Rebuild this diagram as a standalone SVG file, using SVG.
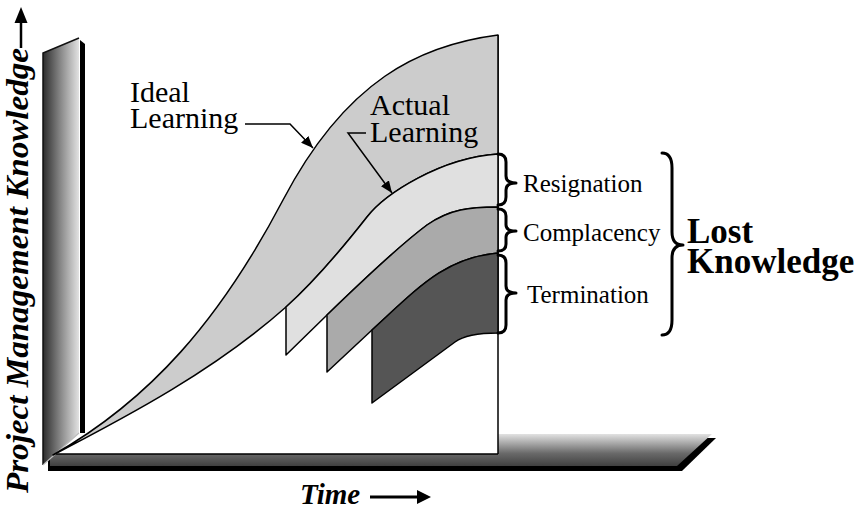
<svg xmlns="http://www.w3.org/2000/svg" width="866" height="511" viewBox="0 0 866 511">
<style>
.band{stroke:#000;stroke-width:1.5;stroke-linejoin:round}
.lbl{fill:#000;font-family:"Liberation Serif","Times New Roman",serif}
.brace{fill:none;stroke:#000;stroke-width:3;stroke-linejoin:round;stroke-linecap:round}
.lead{fill:none;stroke:#000;stroke-width:1.5}
</style>
<defs>
<linearGradient id="gv" x1="0" y1="0" x2="1" y2="0">
<stop offset="0" stop-color="#2c2c2c"/><stop offset="0.5" stop-color="#8a8a8a"/><stop offset="1" stop-color="#e2e2e2"/>
</linearGradient>
<linearGradient id="gh" x1="0" y1="0" x2="0" y2="1">
<stop offset="0" stop-color="#e2e2e2"/><stop offset="0.6" stop-color="#6a6a6a"/><stop offset="1" stop-color="#404040"/>
</linearGradient>
<marker id="ah" viewBox="0 0 12 10" refX="12" refY="5" markerWidth="12" markerHeight="10" markerUnits="userSpaceOnUse" orient="auto">
<path d="M0,0 L12,5 L0,10 Z" fill="#000"/>
</marker>
</defs>
<rect width="866" height="511" fill="#fff"/>

<g id="axes">
<polygon points="48,438 716,438 682,471 48,471" fill="#000"/>
<polygon points="50,434 712,434 677,466 50,466" fill="url(#gh)"/>
<rect x="44" y="420" width="454" height="34" fill="#fff"/>
<line x1="52" y1="454" x2="498" y2="454" stroke="#000" stroke-width="1.5"/>
<line x1="498" y1="35" x2="498" y2="454" stroke="#000" stroke-width="1.5"/>
<polygon points="80,40 85,44 85,433 80,433" fill="#000"/>
<polygon points="43,53 79,38 79,433 43,465" fill="url(#gv)"/>
<polyline points="43,465 43,53 79,38" fill="none" stroke="#111" stroke-width="1.5"/>
<line x1="43" y1="465" x2="79" y2="433" stroke="#bbb" stroke-width="1.2"/>
</g>

<g id="bands">
<path id="ideal" class="band" fill="#cccccc" d="M53,455 C150,400 220,320 283,200 C346,80 420,45 498,35 L498,154 C440,158 385,194 367,217 C345,245 315,281 286,307 C215,370 130,415 53,455 Z"/>
<path id="resignation-band" class="band" fill="#e0e0e0" d="M286,307 C315,281 345,245 367,217 C385,194 440,158 498,154 L498,207 C470,207 450,209 427,225 C400,245 360,283 327,315 L286,355 Z"/>
<path id="complacency-band" class="band" fill="#aaaaaa" d="M327,315 C360,283 400,245 427,225 C450,209 470,207 498,207 L498,253 C445,258 420,286 372,330 L327,372 Z"/>
<path id="termination-band" class="band" fill="#555555" d="M372,330 C420,286 445,258 498,253 L498,333 C475,333 463,336 455,342 L372,403 Z"/>
</g>

<g id="connectors">
<polyline class="lead" points="245,124 290,124 313,148" marker-end="url(#ah)"/>
<polyline class="lead" points="366,133 348,133 392,193" marker-end="url(#ah)"/>
<line x1="21" y1="48" x2="21" y2="22" stroke="#000" stroke-width="2.5"/>
<polygon points="21,7 14.5,23 27.5,23" fill="#000"/>
<line x1="370" y1="497" x2="418" y2="497" stroke="#000" stroke-width="3"/>
<polygon points="431,497 417,490 417,504" fill="#000"/>
</g>

<g id="braces">
<path class="brace" d="M498,154 Q506,154 506,162 L506,176 Q506,183 516,183 Q506,183 506,190 L506,197 Q506,205 498,205"/>
<path class="brace" d="M498,209 Q506,209 506,216 L506,225 Q506,231 516,231 Q506,231 506,237 L506,244 Q506,251 498,251"/>
<path class="brace" d="M498,255 Q506,255 506,263 L506,286 Q506,293 516,293 Q506,293 506,300 L506,325 Q506,333 498,333"/>
<path class="brace" d="M662,153 Q672,153 672,168 L672,232 Q672,245 683,245 Q672,245 672,258 L672,320 Q672,335 662,335"/>
</g>

<g id="labels">
<text class="lbl" x="130" y="102" font-size="30">Ideal</text>
<text class="lbl" x="130" y="128" font-size="30">Learning</text>
<text class="lbl" x="370" y="115" font-size="30">Actual</text>
<text class="lbl" x="370" y="142" font-size="30">Learning</text>
<text class="lbl" x="523" y="192" font-size="25">Resignation</text>
<text class="lbl" x="523" y="241" font-size="25">Complacency</text>
<text class="lbl" x="527" y="303" font-size="25">Termination</text>
<text class="lbl" x="687" y="243" font-size="35" font-weight="bold">Lost</text>
<text class="lbl" x="687" y="273" font-size="35" font-weight="bold">Knowledge</text>
<text class="lbl" x="300" y="504" font-size="29" font-weight="bold" font-style="italic">Time</text>
<text class="lbl" transform="translate(28,493) rotate(-90)" x="0" y="0" font-size="31" font-weight="bold" font-style="italic" textLength="445" lengthAdjust="spacingAndGlyphs">Project Management Knowledge</text>
</g>
</svg>
